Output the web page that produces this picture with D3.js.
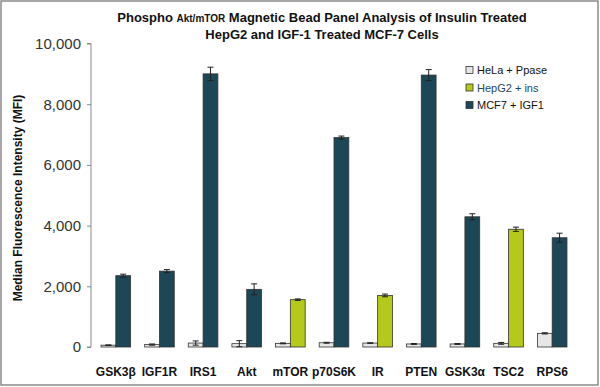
<!DOCTYPE html>
<html><head><meta charset="utf-8">
<script src="https://cdn.jsdelivr.net/npm/d3@7"></script>
<style>body{margin:0;background:#fff}svg{display:block;font-family:"Liberation Sans",Arial,sans-serif}</style>
</head><body><svg id="c" width="600" height="387"></svg>
<script>
const categories = ["GSK3β","IGF1R","IRS1","Akt","mTOR","p70S6K","IR","PTEN","GSK3α","TSC2","RPS6"];
const helaValues = [60,80,130,110,120,140,130,100,100,120,450];
const helaErrors = [10,20,70,100,15,15,10,15,15,30,20];
const hepg2Values = [null,null,null,null,1560,null,1700,null,null,3880,null];
const hepg2Errors = [null,null,null,null,25,null,45,null,null,70,null];
const mcf7Values = [2350,2500,9000,1900,null,6900,null,8960,4290,null,3600];
const mcf7Errors = [50,50,220,180,null,50,null,180,100,null,150];
const yTicks = [0,2000,4000,6000,8000,10000];
const seriesNames = ["HeLa + Ppase","HepG2 + ins","MCF7 + IGF1"];
const seriesColors = ["#e6e6e6","#b5c91a","#1b4756"];

const svg = d3.select("#c");
svg.append("rect").attr("x",1).attr("y",1).attr("width",597).attr("height",384)
  .attr("fill","none").attr("stroke","#8a8a8a").attr("stroke-width",1.5);

const x = d3.scaleBand().domain(categories).range([94,574]);
const y = d3.scaleLinear().domain([0,10000]).range([347,43.5]);
const bw = 14.8;

// y axis
const ya = svg.append("g").attr("transform","translate(91,0)")
  .call(d3.axisLeft(y).tickValues(yTicks).tickFormat(d3.format(",")).tickSize(4).tickPadding(6));
ya.select(".domain").attr("stroke","#8a8a8a").attr("d","M-4,"+y(0)+"H0V"+y(10000)+"H-4");
ya.selectAll(".tick line").attr("stroke","#8a8a8a");
ya.selectAll(".tick text").attr("font-size",15).attr("fill","#333").attr("font-family","Liberation Sans, Arial");

// x labels
svg.append("g").selectAll("text").data(categories).join("text")
  .attr("x",d=>x(d)+x.bandwidth()/2).attr("y",376).attr("text-anchor","middle")
  .attr("font-size",12).attr("font-weight","bold").attr("fill","#111").text(d=>d);

function drawBar(cx, v, e, color){
  if(v==null) return;
  svg.append("rect").attr("x",cx).attr("y",y(v)).attr("width",bw).attr("height",y(0)-y(v))
    .attr("fill",color).attr("stroke","#333").attr("stroke-width",0.8);
  const mx = cx+bw/2;
  const g = svg.append("g").attr("stroke","#222").attr("stroke-width",1);
  g.append("line").attr("x1",mx).attr("x2",mx).attr("y1",y(v+e)).attr("y2",y(Math.max(v-e,0)));
  g.append("line").attr("x1",mx-3).attr("x2",mx+3).attr("y1",y(v+e)).attr("y2",y(v+e));
  g.append("line").attr("x1",mx-3).attr("x2",mx+3).attr("y1",y(Math.max(v-e,0))).attr("y2",y(Math.max(v-e,0)));
}
categories.forEach((c,i)=>{
  const cx = x(c)+x.bandwidth()/2;
  drawBar(cx-bw, helaValues[i], helaErrors[i], seriesColors[0]);
  if(hepg2Values[i]!=null) drawBar(cx, hepg2Values[i], hepg2Errors[i], seriesColors[1]);
  if(mcf7Values[i]!=null) drawBar(cx, mcf7Values[i], mcf7Errors[i], seriesColors[2]);
});

// y label
svg.append("text").attr("transform","translate(22,198) rotate(-90)").attr("text-anchor","middle")
  .attr("font-size",12).attr("font-weight","bold").attr("fill","#111").text("Median Fluorescence Intensity (MFI)");

// title
const t1 = svg.append("text").attr("x",322).attr("y",22).attr("text-anchor","middle")
  .attr("font-size",13).attr("font-weight","bold").attr("fill","#111");
t1.append("tspan").text("Phospho ");
t1.append("tspan").attr("font-size",10).text("Akt/mTOR");
t1.append("tspan").text(" Magnetic Bead Panel Analysis of Insulin Treated");
svg.append("text").attr("x",322).attr("y",39).attr("text-anchor","middle")
  .attr("font-size",13).attr("font-weight","bold").attr("fill","#111").text("HepG2 and IGF-1 Treated MCF-7 Cells");

// legend
const textColors = ["#111","#24475c","#111"];
seriesNames.forEach((n,i)=>{
  const ly = 70 + i*17.5;
  svg.append("rect").attr("x",466).attr("y",ly-3.5).attr("width",7).attr("height",7)
    .attr("fill",seriesColors[i]).attr("stroke","#333").attr("stroke-width",0.8);
  svg.append("text").attr("x",477).attr("y",ly+4).attr("font-size",11).attr("fill",textColors[i]).text(n);
});
</script></body></html>
